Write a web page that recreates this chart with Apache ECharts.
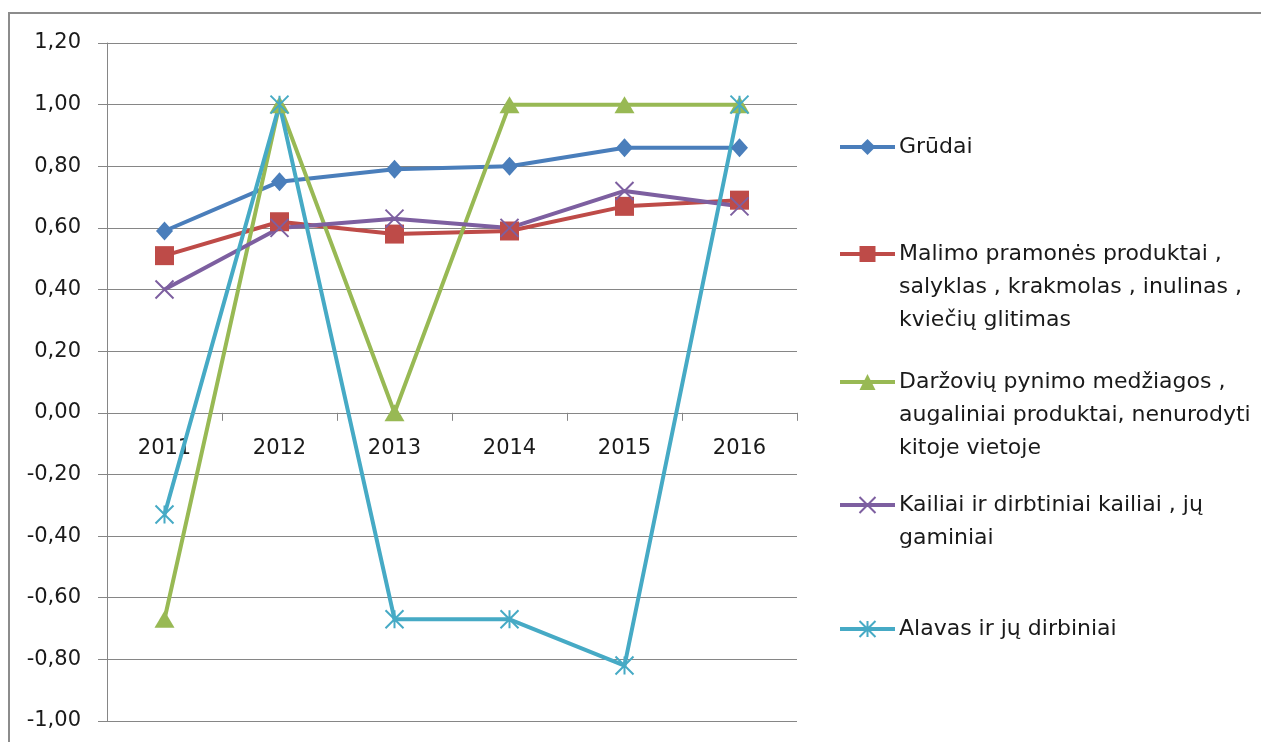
<!DOCTYPE html>
<html>
<head>
<meta charset="utf-8">
<script src="https://cdn.jsdelivr.net/npm/echarts@6/dist/echarts.min.js"></script>
<style>
  html, body { margin: 0; padding: 0; background: #fff; }
  #chart { width: 1261px; height: 742px; }
</style>
</head>
<body>
<div id="chart"></div>
<script>
// data
var years = ['2011', '2012', '2013', '2014', '2015', '2016'];
var names = [
  'Grūdai',
  'Malimo pramonės produktai ,\nsalyklas , krakmolas , inulinas ,\nkviečių glitimas',
  'Daržovių pynimo medžiagos ,\naugaliniai produktai, nenurodyti\nkitoje vietoje',
  'Kailiai ir dirbtiniai kailiai , jų\ngaminiai',
  'Alavas ir jų dirbiniai'
];
var grudai   = [0.59, 0.75, 0.79, 0.80, 0.86, 0.86];
var malimo   = [0.51, 0.62, 0.58, 0.59, 0.67, 0.69];
var darzoviu = [-0.67, 1.00, 0.00, 1.00, 1.00, 1.00];
var kailiai  = [0.40, 0.60, 0.63, 0.60, 0.72, 0.67];
var alavas   = [-0.33, 1.00, -0.67, -0.67, -0.82, 1.00];

var colors = ['#4a7ebb', '#be4b48', '#98b954', '#7d5fa0', '#46aac5'];
var symbols = [
  'diamond',
  'rect',
  'triangle',
  'path://M0,0L10,10M10,0L0,10',
  'path://M0,0L10,10M10,0L0,10M5,0L5,10'
];
var symbolSizes = [[17, 19], 19, [20, 17], 18, 18];
var legendCenters = [147, 254, 382, 505, 629];

var font = 'DejaVu Sans';
var lineH = 33;

var chart = echarts.init(document.getElementById('chart'));
var values = [grudai, malimo, darzoviu, kailiai, alavas];

var series = names.map(function (n, i) {
  var open = i >= 3;
  return {
    name: n,
    type: 'line',
    data: values[i],
    symbol: symbols[i],
    symbolSize: symbolSizes[i],
    showAllSymbol: true,
    lineStyle: { color: colors[i], width: 4 },
    itemStyle: {
      color: open ? 'rgba(0,0,0,0)' : colors[i],
      borderColor: colors[i],
      borderWidth: open ? 2 : 0
    },
    emphasis: { disabled: true },
    animation: false
  };
});

// one legend block per item, first text line aligned with the icon
var legends = names.map(function (n, i) {
  var lines = n.split('\n').length;
  var h = (2 * lines - 1) * lineH;
  return {
    orient: 'vertical',
    left: 838,
    top: legendCenters[i] - h / 2,
    padding: 0,
    itemWidth: 55,
    itemHeight: 20,
    itemGap: 0,
    data: [n],
    selectedMode: false,
    lineStyle: { width: 4 },
    formatter: function (name) {
      var k = name.split('\n').length - 1;
      return new Array(k + 1).join('\n') + name;
    },
    textStyle: { fontFamily: font, fontSize: 22, color: '#1a1a1a', lineHeight: lineH, padding: [0, 0, 0, -1] }
  };
});

var option = {
  animation: false,
  color: colors,
  graphic: [{
    type: 'rect',
    shape: { x: 9, y: 13, width: 1400, height: 900 },
    style: { fill: 'none', stroke: '#8c8c8c', lineWidth: 2 },
    silent: true
  }],
  grid: { left: 107, right: 464, top: 43, bottom: 21, containLabel: false, outerBoundsMode: 'none' },
  legend: legends,
  xAxis: {
    type: 'category',
    data: years,
    position: 'bottom',
    offset: 0,
    axisLine: { onZero: false, lineStyle: { color: '#868686', width: 1 } },
    axisTick: { show: true, length: 8, lineStyle: { color: '#868686' } },
    axisLabel: { margin: 25, fontFamily: font, fontSize: 21, color: '#1a1a1a' }
  },
  yAxis: {
    type: 'value',
    min: -1,
    max: 1.2,
    interval: 0.2,
    axisLine: { show: true, lineStyle: { color: '#868686', width: 1 } },
    axisTick: { show: true, length: 9, lineStyle: { color: '#868686' } },
    axisLabel: {
      margin: 26,
      fontFamily: font,
      fontSize: 21,
      color: '#1a1a1a',
      formatter: function (v) { return v.toFixed(2).replace('.', ','); }
    },
    splitLine: { lineStyle: { color: '#868686', width: 1 } }
  },
  series: series
};
chart.setOption(option);

// lift the category axis (line, ticks and labels) up to the zero value
var yBottom = chart.convertToPixel({ yAxisIndex: 0 }, -1);
var yZero = chart.convertToPixel({ yAxisIndex: 0 }, 0);
chart.setOption({ xAxis: { offset: -(yBottom - yZero) } });
</script>
</body>
</html>
